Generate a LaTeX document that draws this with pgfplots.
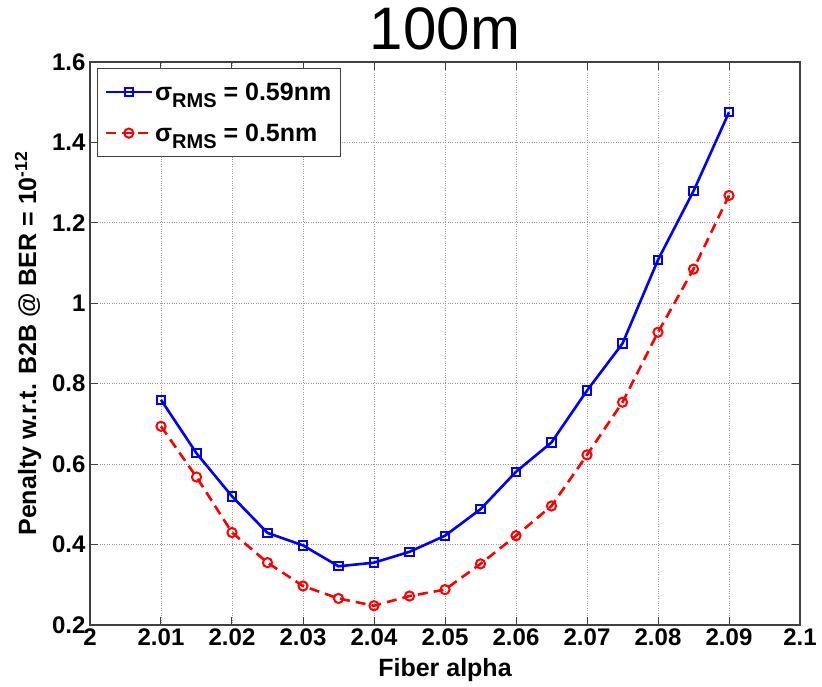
\documentclass[border=0pt]{standalone}
\usepackage{pgfplots}
\pgfplotsset{compat=1.18}
\usepackage{fontspec}
\setmainfont{Liberation Sans}
\usetikzlibrary{calc}
\begin{document}
\begin{tikzpicture}
\begin{axis}[name=ax, scale only axis, width=710pt, height=563pt,
  xmin=2, xmax=2.1, ymin=0.2, ymax=1.6,
  xtick={2,2.01,2.02,2.03,2.04,2.05,2.06,2.07,2.08,2.09,2.1},
  xticklabels={2,2.01,2.02,2.03,2.04,2.05,2.06,2.07,2.08,2.09,2.1},
  ytick={0.2,0.4,0.6,0.8,1,1.2,1.4,1.6},
  yticklabels={0.2,0.4,0.6,0.8,1,1.2,1.4,1.6},
  grid=major, major grid style={dotted, gray!80, line width=0.9pt},
  tick align=inside, major tick length=8pt,
  tick style={gray!50!black, line width=1pt},
  axis line style={gray!50!black, line width=1.2pt},
  ticklabel style={font=\fontsize{24}{28}\selectfont\bfseries},
  yticklabel style={xshift=-1pt},
  title={100m},
  title style={font=\fontsize{60}{60}\selectfont, at={(axis description cs:0.5,1.0124)}, anchor=base, inner sep=0pt},
  xlabel={Fiber alpha},
  xlabel style={font=\fontsize{25}{28}\selectfont\bfseries, at={(axis description cs:0.5,-0.0906)}, anchor=base, inner sep=0pt},
  ylabel={Penalty w.r.t. B2B @ BER = 10\textsuperscript{-12}},
  ylabel style={font=\fontsize{25}{28}\selectfont\bfseries, at={(axis description cs:-0.076,0.5)}, anchor=base, inner sep=0pt},
  legend style={at={(0.0099,0.989)}, anchor=north west, draw=gray!50!black, line width=1pt,
    font=\fontsize{25}{29}\selectfont\bfseries, row sep=18pt, inner xsep=7pt, inner ysep=12pt},
  legend cell align=left,
  legend image code/.code={\draw[mark repeat=2,mark phase=2,#1] plot coordinates {(0pt,0pt) (23pt,0pt) (46pt,0pt)};},
]
\addplot[blue, line width=2.6pt, mark=square, mark size=4.2pt, mark options={solid, line width=2pt}] coordinates {
(2.010,0.760) (2.015,0.627) (2.020,0.520) (2.025,0.429) (2.030,0.398) (2.035,0.346) (2.040,0.355) (2.045,0.382) (2.050,0.422) (2.055,0.488) (2.060,0.581) (2.065,0.654) (2.070,0.783) (2.075,0.900) (2.080,1.108) (2.085,1.279) (2.090,1.475)};
\addlegendentry{σ\raisebox{-7pt}{\fontsize{20}{20}\selectfont RMS} = 0.59nm}
\addplot[red, line width=2.6pt, dash pattern=on 10pt off 6pt, mark=o, mark size=4.6pt, mark options={solid, line width=2pt}] coordinates {
(2.010,0.694) (2.015,0.568) (2.020,0.430) (2.025,0.355) (2.030,0.297) (2.035,0.266) (2.040,0.248) (2.045,0.272) (2.050,0.288) (2.055,0.352) (2.060,0.422) (2.065,0.496) (2.070,0.623) (2.075,0.754) (2.080,0.928) (2.085,1.085) (2.090,1.268)};
\addlegendentry{σ\raisebox{-7pt}{\fontsize{20}{20}\selectfont RMS} = 0.5nm}
\end{axis}
\pgfresetboundingbox
\path ($(ax.south west)+(-90pt,-62pt)$) rectangle ($(ax.north east)+(22pt,62pt)$);
\end{tikzpicture}
\end{document}
